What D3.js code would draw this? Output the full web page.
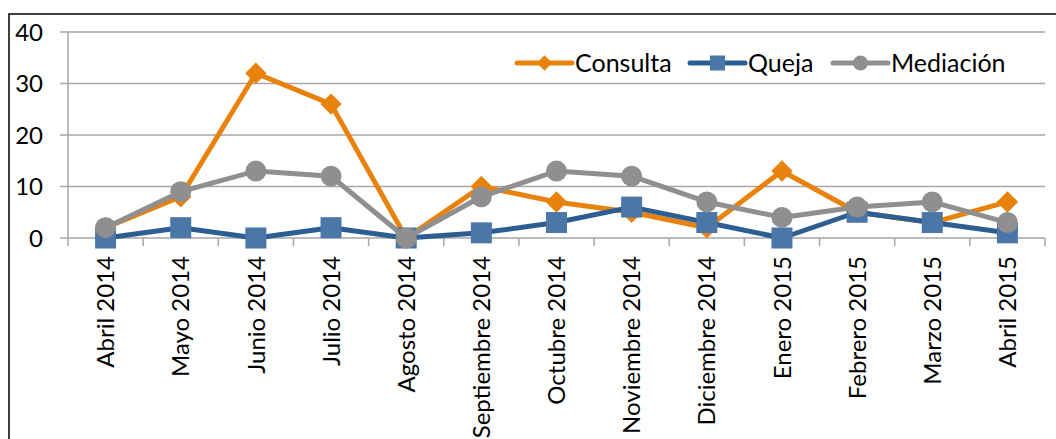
<!DOCTYPE html>
<html>
<head>
<meta charset="utf-8">
<script src="https://cdn.jsdelivr.net/npm/d3@7"></script>
<style>
  html, body { margin: 0; padding: 0; background: #fff; }
  svg { display: block; }
  text { font-family: Lato, "Open Sans", sans-serif; fill: #000; }
</style>
</head>
<body>
<svg id="chart" width="1056" height="439"></svg>
<script>
// Monthly cases by type, April 2014 – April 2015
const months = ["Abril 2014", "Mayo 2014", "Junio 2014", "Julio 2014", "Agosto 2014",
  "Septiembre 2014", "Octubre 2014", "Noviembre 2014", "Diciembre 2014",
  "Enero 2015", "Febrero 2015", "Marzo 2015", "Abril 2015"];
const consulta  = [2, 8, 32, 26, 0, 10, 7, 5, 2, 13, 5, 3, 7];
const queja     = [0, 2, 0, 2, 0, 1, 3, 6, 3, 0, 5, 3, 1];
const mediacion = [2, 9, 13, 12, 0, 8, 13, 12, 7, 4, 6, 7, 3];
const yTicks = [0, 10, 20, 30, 40];

const seriesList = [
  { name: "Consulta",  values: consulta,  line: "#E8820C", fill: "#E8820C", shape: "diamond" },
  { name: "Queja",     values: queja,     line: "#2C5E93", fill: "#4A76A8", shape: "square" },
  { name: "Mediación", values: mediacion, line: "#8F8F8F", fill: "#8F8F8F", shape: "circle" }
];

const svg = d3.select("#chart");
const plot = { left: 68, right: 1045, top: 32, bottom: 238 };

// Outer frame
svg.append("rect")
  .attr("x", 9).attr("y", 14).attr("width", 1100).attr("height", 500)
  .attr("fill", "none").attr("stroke", "#000").attr("stroke-width", 1.5);

const x = d3.scaleBand().domain(months).range([plot.left, plot.right]);
const y = d3.scaleLinear().domain([0, 40]).range([plot.bottom, plot.top]);

// Horizontal gridlines
svg.append("g")
  .selectAll("line").data(yTicks).join("line")
  .attr("x1", plot.left - 8).attr("x2", plot.right)
  .attr("y1", d => y(d)).attr("y2", d => y(d))
  .attr("stroke", "#A6A6A6").attr("stroke-width", 1.5);

// Y axis line
svg.append("line")
  .attr("x1", plot.left).attr("x2", plot.left)
  .attr("y1", plot.top).attr("y2", plot.bottom)
  .attr("stroke", "#A6A6A6").attr("stroke-width", 1.5);

// Y tick labels
svg.append("g")
  .selectAll("text").data(yTicks).join("text")
  .attr("x", 43).attr("y", d => y(d))
  .attr("dy", "0.36em")
  .attr("text-anchor", "end")
  .style("font-size", "24px")
  .text(d => d);

// X axis tick marks at category boundaries
const boundaries = months.map(m => x(m)).concat([plot.right]);
svg.append("g")
  .selectAll("line").data(boundaries).join("line")
  .attr("x1", d => d).attr("x2", d => d)
  .attr("y1", plot.bottom).attr("y2", plot.bottom + 8)
  .attr("stroke", "#A6A6A6").attr("stroke-width", 1.5);

// X category labels, rotated
svg.append("g")
  .selectAll("text").data(months).join("text")
  .attr("transform", d => `translate(${x(d) + x.bandwidth() / 2},256) rotate(-90)`)
  .attr("dy", "0.36em")
  .attr("text-anchor", "end")
  .style("font-size", "24px")
  .text(d => d);

const cx = i => x(months[i]) + x.bandwidth() / 2;

function drawMarker(g, shape, size, fill) {
  if (shape === "diamond") {
    const s = size * 0.72;
    g.append("rect").attr("x", -s / 2).attr("y", -s / 2).attr("width", s).attr("height", s)
      .attr("transform", "rotate(45)").attr("fill", fill);
  } else if (shape === "square") {
    g.append("rect").attr("x", -size / 2).attr("y", -size / 2).attr("width", size).attr("height", size)
      .attr("fill", fill);
  } else {
    g.append("circle").attr("r", size / 2).attr("fill", fill);
  }
}

const line = d3.line().x((d, i) => cx(i)).y(d => y(d));

// Lines and markers for each series, drawn in order
seriesList.forEach(s => {
  const g = svg.append("g");
  g.append("path").datum(s.values)
    .attr("d", line)
    .attr("fill", "none").attr("stroke", s.line)
    .attr("stroke-width", 5).attr("stroke-linejoin", "round").attr("stroke-linecap", "round");
  s.values.forEach((v, i) => {
    const m = g.append("g").attr("transform", `translate(${cx(i)},${y(v)})`);
    drawMarker(m, s.shape, 21, s.fill);
  });
});

// Legend
const legendPos = [517, 690, 833];
seriesList.forEach((s, i) => {
  const lg = svg.append("g").attr("transform", `translate(${legendPos[i]},63)`);
  lg.append("line").attr("x1", 0).attr("x2", 55).attr("y1", 0).attr("y2", 0)
    .attr("stroke", s.line).attr("stroke-width", 5).attr("stroke-linecap", "round");
  const m = lg.append("g").attr("transform", "translate(27.5,0)");
  drawMarker(m, s.shape, 15, s.fill);
  lg.append("text").attr("x", 58).attr("y", 0).attr("dy", "0.36em")
    .style("font-size", "25px").text(s.name);
});
</script>
</body>
</html>
